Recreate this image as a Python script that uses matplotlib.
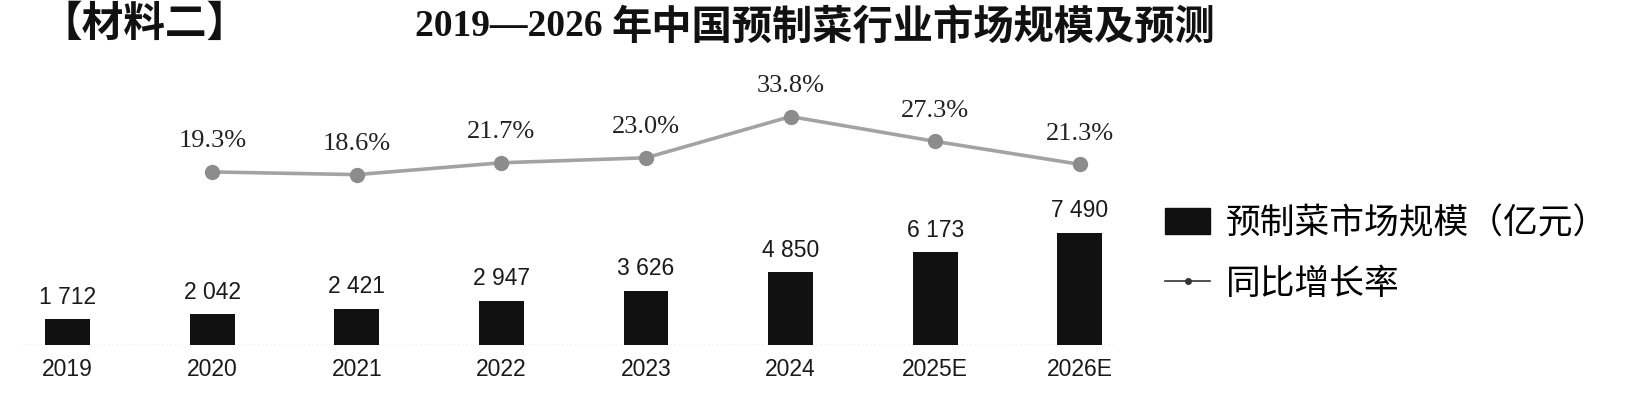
import matplotlib
matplotlib.use("Agg")
import matplotlib.pyplot as plt
from matplotlib.lines import Line2D
from matplotlib.patches import Patch

years = ["2019", "2020", "2021", "2022", "2023", "2024", "2025E", "2026E"]
market_size = [1712, 2042, 2421, 2947, 3626, 4850, 6173, 7490]
growth_years = ["2020", "2021", "2022", "2023", "2024", "2025E", "2026E"]
growth_rate = [19.3, 18.6, 21.7, 23.0, 33.8, 27.3, 21.3]

cjk = ["Noto Sans CJK SC", "DejaVu Sans"]
narrow = ["Liberation Sans Narrow", "Liberation Sans", "DejaVu Sans"]
serif = ["Liberation Serif", "DejaVu Serif"]

plt.rcParams["font.family"] = cjk

W, H = 1646, 399
fig = plt.figure(figsize=(W / 100, H / 100), dpi=100)
fig.patch.set_facecolor("white")

# axes box in pixels (from top-left)
left_px, right_px = 20, 1113
top_px, base_px = 60, 345
ax = fig.add_axes([left_px / W, (H - base_px) / H,
                   (right_px - left_px) / W, (base_px - top_px) / H])

x = list(range(len(years)))
bars = ax.bar(x, market_size, width=0.31, color="#111111", zorder=3)
ax.set_xlim(-0.33, 7.23)
ax.set_ylim(0, 19000)
ax.axhline(0, color="#bbbbbb", ls=(0, (1, 2)), lw=1.0, zorder=1)

for xi, v in zip(x, market_size):
    label = f"{v:,}".replace(",", " ")
    ax.annotate(label, (xi, v), xytext=(0, 16), textcoords="offset points",
                ha="center", va="center", fontsize=16.5, family=narrow,
                color="#1a1a1a")

ax.set_xticks(x)
ax.set_xticklabels(years, family=narrow, fontsize=16.5, color="#1a1a1a")
ax.tick_params(axis="x", length=0, pad=9)
ax.set_yticks([])
for s in ax.spines.values():
    s.set_visible(False)

ax2 = ax.twinx()
gx = [years.index(g) for g in growth_years]
ax2.plot(gx, growth_rate, color="#a3a3a3", lw=2.6, marker="o", ms=10,
         markerfacecolor="#8c8c8c", markeredgecolor="#8c8c8c", zorder=4)
ax2.set_ylim(-26, 48.6)
ax2.set_yticks([])
for s in ax2.spines.values():
    s.set_visible(False)
for xi, v in zip(gx, growth_rate):
    ax2.annotate(f"{v:.1f}%", (xi, v), xytext=(0, 22), textcoords="offset points",
                 ha="center", va="center", fontsize=19, family=serif,
                 color="#222222")

handles = [Patch(facecolor="#111111", edgecolor="#111111"),
           Line2D([0], [0], color="#333333", lw=1.2, marker="o", ms=4)]
labels = ["预制菜市场规模（亿元）", "同比增长率"]
fig.legend(handles, labels, loc="upper left",
           bbox_to_anchor=(1165 / W, 1 - 206 / H), frameon=False,
           handlelength=1.3, handleheight=0.8,
           handletextpad=0.45, labelspacing=0.75, borderaxespad=0,
           borderpad=0, prop={"family": cjk, "size": 25, "weight": "light"})

fig.text(40 / W, 1 - 24 / H, "【材料二】", fontsize=30, fontweight="bold",
         family=cjk, ha="left", va="center", color="#111111")
fig.text(415 / W, 1 - 27 / H, "2019—2026 ", fontsize=27, fontweight="bold",
         family=serif, ha="left", va="center", color="#111111")
fig.text(612 / W, 1 - 27 / H, "年中国预制菜行业市场规模及预测", fontsize=29,
         fontweight="bold", family=cjk, ha="left", va="center", color="#111111")

fig.savefig("out.png", dpi=100, facecolor="white")
